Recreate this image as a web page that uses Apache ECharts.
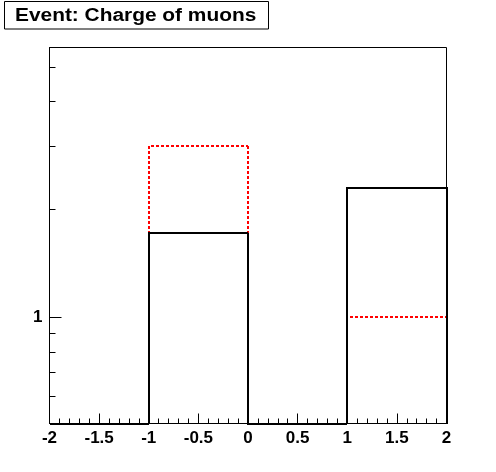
<!DOCTYPE html>
<html><head><meta charset="utf-8">
<script src="https://cdn.jsdelivr.net/npm/echarts@6/dist/echarts.min.js"></script>
<style>html,body{margin:0;padding:0;background:#fff}#c{width:496px;height:472px}</style>
</head><body><div id="c"></div>
<script>
// Data
const titleText = 'Event: Charge of muons';
const binEdges = [-2, -1, 0, 1, 2];
const blackValues = [0, 1.714, 0, 2.286];
const redValues = [0, 3, 0, 1];
const yTickValues = [0.6, 0.7, 0.8, 0.9, 1, 2, 3, 4, 5];
const yLabelValues = [1];
const yMin = 0.504, yMax = 5.655;
const xMin = -2, xMax = 2, xInterval = 0.5;

// one item per bin: [low edge, high edge, value, previous value, isLast]
function binData(vals) {
  const out = [];
  for (let i = 0; i < vals.length; i++) {
    out.push([binEdges[i], binEdges[i + 1], vals[i], i > 0 ? vals[i - 1] : 0, i === vals.length - 1 ? 1 : 0]);
  }
  return out;
}
function clampV(v) { return v > 0 ? v : yMin; }
function snap(p) { return [Math.round(p[0]), Math.round(p[1])]; }
function histRender(color, dash) {
  return function (params, api) {
    const lo = api.value(0), hi = api.value(1), v = clampV(api.value(2)), pv = clampV(api.value(3)), last = api.value(4);
    const pts = [api.coord([lo, pv]), api.coord([lo, v]), api.coord([hi, v])];
    if (last) pts.push(api.coord([hi, yMin]));
    return {type: 'polyline', shape: {points: pts.map(snap)}, style: {stroke: color, lineWidth: 2, fill: null, lineDash: dash}};
  };
}

const chart = echarts.init(document.getElementById('c'), null, {renderer: 'canvas'});
const labelFont = {fontFamily: 'Liberation Sans, Arial, sans-serif', fontWeight: 'bold', fontSize: 17, color: '#000'};

chart.setOption({
  animation: false,
  backgroundColor: '#fff',
  grid: {left: 49.5, top: 47.5, width: 397, height: 376, show: true, borderColor: '#000', borderWidth: 1, backgroundColor: 'transparent'},
  xAxis: {
    type: 'value', min: xMin, max: xMax, interval: xInterval,
    axisLine: {show: true, onZero: false, lineStyle: {color: '#000', width: 1}},
    axisTick: {show: true, inside: true, length: 10, lineStyle: {color: '#000', width: 1}},
    minorTick: {show: true, splitNumber: 5, length: 5, lineStyle: {color: '#000', width: 1}},
    splitLine: {show: false},
    axisLabel: Object.assign({margin: 6}, labelFont)
  },
  yAxis: {
    type: 'log', logBase: 10, min: yMin, max: yMax,
    axisLine: {show: true, onZero: false, lineStyle: {color: '#000', width: 1}},
    axisTick: {show: false},
    splitLine: {show: false},
    axisLabel: Object.assign({
      margin: 7,
      showMinLabel: true, showMaxLabel: true,
      formatter: function (v) {
        for (const l of yLabelValues) { if (Math.abs(v - l) < 1e-6) return String(l); }
        return '';
      }
    }, labelFont)
  },
  graphic: [
    {type: 'rect', shape: {x: 4.5, y: 1.5, width: 264, height: 27.5}, style: {fill: '#fff', stroke: '#000', lineWidth: 1}, z: 10},
    {type: 'text', x: 15, y: 16, scaleX: 1.16, z: 11, style: {text: titleText, fontFamily: 'Liberation Sans', fontWeight: 'bold', fontSize: 18, fill: '#000', verticalAlign: 'middle', align: 'left'}}
  ],
  series: [
    {
      type: 'custom', name: 'yticks', clip: false, silent: true,
      data: yTickValues.map(v => [xMin, v]),
      renderItem: function (params, api) {
        const v = api.value(1);
        const p = api.coord([api.value(0), v]);
        const y = Math.round(p[1]) + 0.5;
        const isDecade = Math.abs(Math.log10(v) - Math.round(Math.log10(v))) < 1e-6;
        const len = isDecade ? 12 : 6;
        return {type: 'line', shape: {x1: p[0], y1: y, x2: p[0] + len, y2: y}, style: {stroke: '#000', lineWidth: 1}};
      },
      z: 3
    },
    {
      type: 'custom', name: 'red', clip: false, silent: true,
      encode: {x: [0, 1], y: 2},
      data: binData(redValues),
      renderItem: histRender('#ff0000', [3, 2]),
      z: 4
    },
    {
      type: 'custom', name: 'black', clip: false, silent: true,
      encode: {x: [0, 1], y: 2},
      data: binData(blackValues),
      renderItem: histRender('#000000', null),
      z: 5
    }
  ]
});
</script>
</body></html>
